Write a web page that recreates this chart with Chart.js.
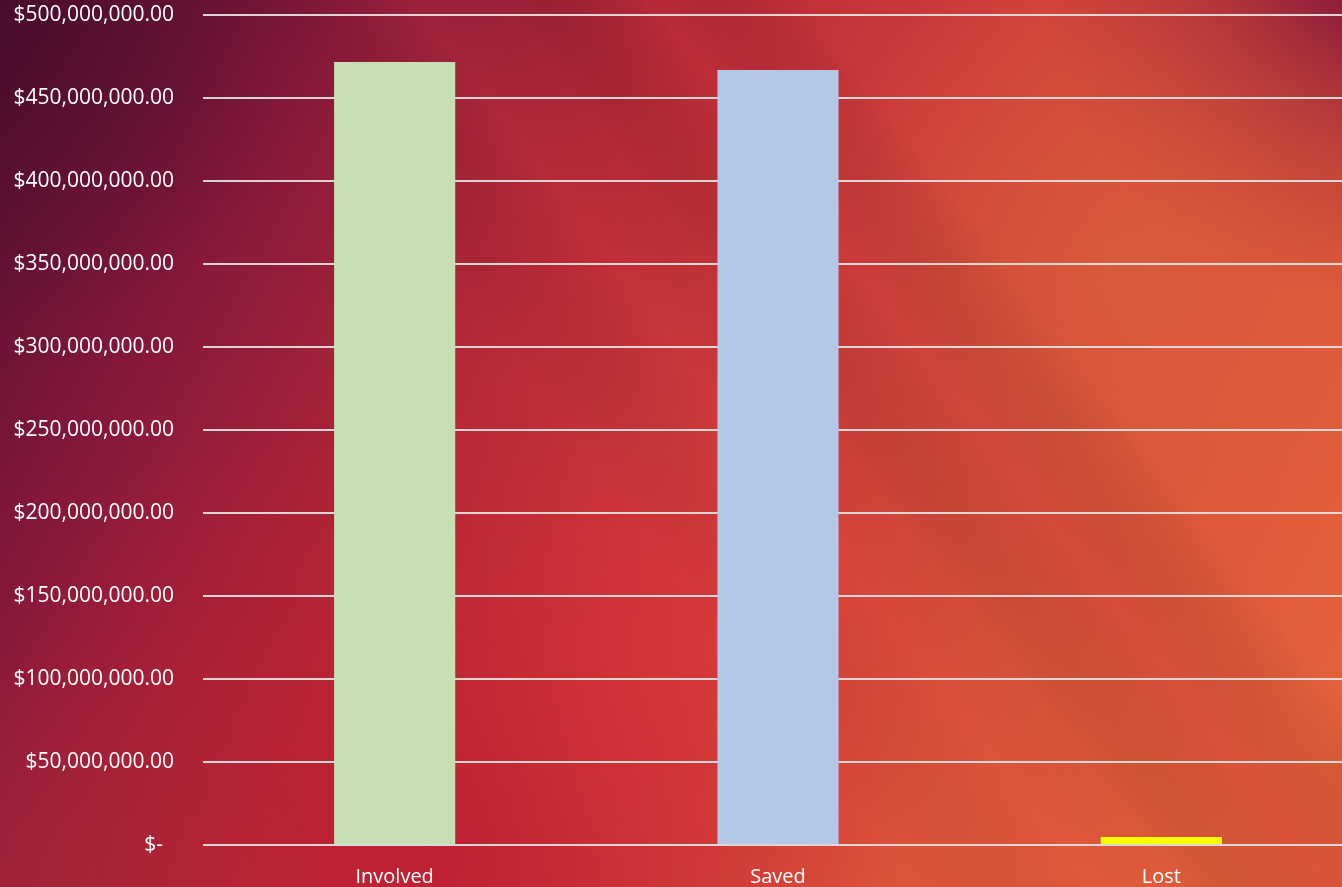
<!DOCTYPE html>
<html>
<head>
<meta charset="utf-8">
<script src="https://cdn.jsdelivr.net/npm/chart.js@4/dist/chart.umd.min.js"></script>
<style>
  html, body { margin: 0; padding: 0; overflow: hidden; background: #b82a36; }
  #wrap { width: 1353px; height: 887px; }
</style>
</head>
<body>
<div id="wrap"><canvas id="lossChart"></canvas></div>
<script>
const categories = ['Involved', 'Saved', 'Lost'];
const amounts = [471700000, 466900000, 4800000];
const barColors = ['#c6e0b4', '#b4c7e7', '#ffff00'];
const axisMax = 500000000;
const axisStep = 50000000;

// accounting style: "$-" for zero, otherwise dollars with cents
function money(v) {
  if (v === 0) return '$-  ';
  return '$' + v.toLocaleString('en-US', { minimumFractionDigits: 2, maximumFractionDigits: 2 });
}

// red/orange wallpaper behind the whole canvas
const wallpaper = {
  id: 'wallpaper',
  beforeDraw(chart) {
    const { ctx, width, height } = chart;
    ctx.save();
    const base = ctx.createLinearGradient(0, 0, 1300, 700);
    base.addColorStop(0, '#4e0e2e');
    base.addColorStop(0.2, '#86183a');
    base.addColorStop(0.42, '#bb2a38');
    base.addColorStop(0.6, '#d03c3a');
    base.addColorStop(0.8, '#dc523a');
    base.addColorStop(1, '#e4603a');
    ctx.fillStyle = base;
    ctx.fillRect(0, 0, width, height);

    const blob = (x, y, r, inner, outer) => {
      const g = ctx.createRadialGradient(x, y, 0, x, y, r);
      g.addColorStop(0, inner);
      g.addColorStop(1, outer);
      ctx.fillStyle = g;
      ctx.fillRect(0, 0, width, height);
    };
    // maroon corner top right
    blob(1370, -30, 330, 'rgba(125,18,58,0.95)', 'rgba(150,30,55,0)');
    // orange glow upper right
    blob(1120, 260, 320, 'rgba(215,98,60,0.6)', 'rgba(215,98,60,0)');
    // crimson lower left / bottom middle
    blob(420, 860, 480, 'rgba(185,25,48,0.75)', 'rgba(185,25,48,0)');
    blob(80, 880, 250, 'rgba(160,40,55,0.5)', 'rgba(160,40,55,0)');
    // red pocket around the middle
    blob(700, 650, 280, 'rgba(226,55,55,0.45)', 'rgba(226,55,55,0)');
    // dark top left corner
    blob(0, 0, 330, 'rgba(70,12,45,0.6)', 'rgba(70,12,45,0)');

    // soft diagonal streaks
    ctx.translate(width / 2, height / 2);
    ctx.rotate(Math.atan2(470, 360));
    const band = (off, w, col) => {
      const b = ctx.createLinearGradient(0, off - w, 0, off + w);
      b.addColorStop(0, 'rgba(0,0,0,0)');
      b.addColorStop(0.5, col);
      b.addColorStop(1, 'rgba(0,0,0,0)');
      ctx.fillStyle = b;
      ctx.fillRect(-1500, off - w, 3000, 2 * w);
    };
    band(-250, 120, 'rgba(195,45,58,0.25)');
    band(-60, 140, 'rgba(220,70,60,0.12)');
    ctx.restore();
  }
};

new Chart(document.getElementById('lossChart'), {
  type: 'bar',
  data: {
    labels: categories,
    datasets: [{
      data: amounts,
      backgroundColor: barColors,
      borderWidth: 0,
      categoryPercentage: 1,
      barPercentage: 0.316
    }]
  },
  options: {
    responsive: true,
    maintainAspectRatio: false,
    animation: false,
    layout: { padding: { top: 15, left: 0, right: 0, bottom: 0 } },
    plugins: {
      legend: { display: false },
      tooltip: { enabled: false }
    },
    scales: {
      y: {
        min: 0,
        max: axisMax,
        afterFit(scale) {
          scale.width = 203;
          scale.paddingTop = 0;
          scale.paddingBottom = 0;
        },
        border: { display: false },
        grid: { color: 'rgba(222,222,222,0.95)', lineWidth: 2, drawTicks: false },
        ticks: {
          stepSize: axisStep,
          padding: 29,
          color: '#ffffff',
          font: { family: 'Open Sans', size: 21 },
          callback: v => money(v)
        }
      },
      x: {
        afterFit(scale) {
          scale.height = 42;
          scale.paddingLeft = 0;
          scale.paddingRight = 0;
        },
        border: { display: false },
        grid: { display: false, drawTicks: false },
        ticks: {
          padding: 20,
          color: '#ffffff',
          font: { family: 'Open Sans', size: 20 }
        }
      }
    }
  },
  plugins: [wallpaper]
});
</script>
</body>
</html>
